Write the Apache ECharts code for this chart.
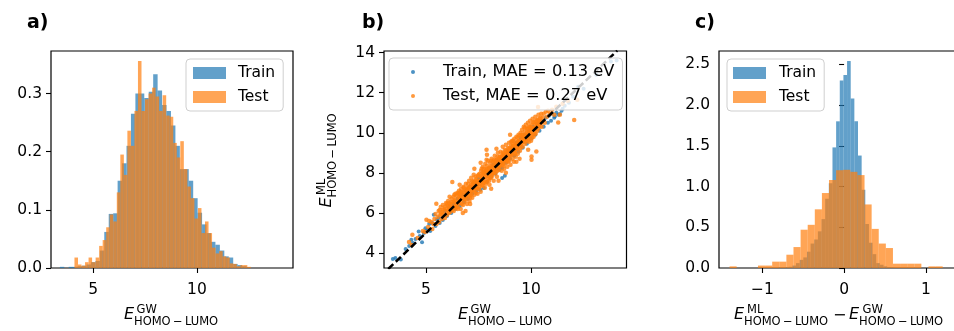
<!DOCTYPE html>
<html><head><meta charset="utf-8">
<script src="https://cdn.jsdelivr.net/npm/echarts@6/dist/echarts.min.js"></script>
<style>html,body{margin:0;padding:0;background:#fff}#c{width:954px;height:331px}</style>
</head><body><div id="c"></div>
<script>
// ---------- Panel a: histogram of E_GW (density) ----------
const aTrainStart = 3.395, aTrainWidth = 0.2142;
const aTrainHeights = [0.002,0,0.002,0.002,0.003,0.004,0.006,0.01,0.012,0.03,
  0.062,0.093,0.094,0.15,0.18,0.21,0.265,0.3,0.3,0.292,
  0.303,0.333,0.305,0.28,0.27,0.245,0.21,0.17,0.17,0.15,
  0.12,0.095,0.075,0.06,0.045,0.04,0.03,0.02,0.018,0.007,
  0.005,0.003,0.001,0];
const aTestStart = 4.10, aTestWidth = 0.17;
const aTestHeights = [0.018,0.006,0.004,0.010,0.018,0.010,0.018,0.038,0.048,0.07,
  0.092,0.08,0.13,0.195,0.16,0.236,0.21,0.27,0.356,0.27,
  0.29,0.30,0.31,0.295,0.27,0.297,0.262,0.26,0.215,0.19,
  0.218,0.17,0.14,0.12,0.085,0.103,0.06,0.08,0.06,0.035,
  0.025,0.029,0.02,0.018,0.008,0.007,0.003,0.005,0.005,0.002];

// ---------- Panel c: histogram of errors (density) ----------
const cTrainStart = -0.811, cTrainWidth = 0.0446;
const cTrainHeights = [0.005,0.005,0.01,0.015,0.03,0.06,0.10,0.13,0.2,0.30,
  0.35,0.45,0.6,0.85,1.04,1.48,1.80,2.30,2.37,2.54,
  2.08,1.80,1.38,0.96,0.54,0.31,0.17,0.06,0.04,0.02,0.01,0.005];
const cTestStart = -1.401, cTestWidth = 0.0869;
const cTestHeights = [0.02,0,0,0,0.03,0.03,0.078,0.078,0.163,0.257,
  0.47,0.53,0.72,0.92,1.08,1.2,1.205,1.18,1.14,0.78,
  0.48,0.30,0.245,0.053,0.053,0.053,0.053,0,0.02,0.02];

// ---------- Panel b: parity scatter ----------
const trainPoints = [[3.42,3.7],[3.54,3.75],[3.8,3.68],[4.03,4.2],[4.2,4.35],[4.3,4.66],[4.38,4.5],[4.5,4.7],[4.65,5.07],[4.7,4.85],
  [4.81,4.53],[4.9,5.0],[4.97,5.24],[5.05,5.15],[5.15,5.45],[5.2,5.1],[5.3,5.5],[5.37,5.91],[5.45,5.35],[5.52,5.66],[5.6,5.75],[5.65,5.5],
  [5.8,5.65],[5.9,6.1],[6.0,5.85],[6.1,6.3],[6.2,6.0],[6.3,6.45],[6.4,6.2],[6.5,6.7],[6.6,6.35],[6.7,6.9],[6.8,6.55],[6.9,7.1],
  [7.0,6.7],[7.1,7.3],[7.2,6.95],[7.3,7.5],[7.4,7.1],[7.5,7.7],[7.59,7.15],[7.75,7.24],[7.8,8.0],[7.9,7.55],[8.0,8.2],[8.1,7.8],
  [8.2,8.4],[8.3,7.95],[8.4,8.6],[8.5,8.15],[8.62,7.74],[8.62,8.24],[8.7,8.9],[8.75,7.85],[8.8,8.5],[8.9,9.1],[9.0,8.7],[9.1,9.3],
  [9.2,8.85],[9.3,9.5],[9.4,9.05],[9.5,9.75],[9.6,9.25],[9.7,9.9],[9.8,9.45],[9.9,10.1],[10.0,9.7],[10.1,10.3],[10.2,9.9],[10.3,10.45],
  [10.4,10.1],[10.5,10.6],[10.6,10.3],[10.7,10.75],[10.8,10.5],[10.85,10.85],[10.95,10.6],[11.0,10.95],[11.1,10.75],[11.13,10.81],
  [11.2,11.0],[11.3,10.9],[11.37,10.94],[11.45,11.1],[11.5,11.2],[11.6,11.35],[11.68,11.67],[11.8,11.5],[12.0,11.8],[12.24,12.3],
  [12.5,12.2],[13.1,12.9],[13.8,13.55],[14.07,13.6]];
const testPoints = [[4.19,4.55],[4.35,4.91],[4.32,4.4],[4.6,4.75],[4.85,5.1],[5.02,5.66],[5.1,5.3],[5.25,5.55],[5.3,5.2],[5.4,5.7],
  [5.45,5.95],[5.5,5.45],[4.95,5.05],[5.15,5.6],[5.35,5.45],
  [5.49,6.46],[5.55,5.8],[5.6,6.1],[5.62,5.55],[5.68,5.9],[5.7,6.3],[5.75,5.7],[5.78,6.05],[5.8,6.4],[5.85,5.95],[5.88,6.2],[5.9,5.75],
  [5.95,6.5],[5.98,6.1],[6.0,5.9],[6.02,6.35],[6.05,6.6],[6.08,6.0],[6.1,6.25],[6.12,6.8],[6.15,6.05],[6.18,6.45],[6.2,6.2],[6.22,6.7],
  [6.25,7.54],[6.27,6.3],[6.3,6.55],[6.32,6.1],[6.35,6.9],[6.38,6.4],[6.4,6.65],[6.42,6.25],[6.45,6.85],[6.48,6.5],[6.5,7.0],
  [6.52,6.3],[6.55,6.75],[6.57,7.1],[6.6,6.5],[6.62,6.9],[6.65,6.2],[6.67,7.2],[6.7,6.65],[6.72,7.0],[6.75,6.0],[6.76,6.4],[6.78,7.3],
  [6.8,6.85],[6.82,6.55],[6.85,7.15],[6.87,6.7],[6.9,7.45],[6.92,6.95],[6.95,6.45],[6.97,7.25],[7.0,6.8],[7.02,7.05],[7.05,7.6],[7.07,6.6],
  [7.1,7.3],[7.12,6.95],[7.15,7.75],[7.17,7.1],[7.2,6.75],[7.22,7.45],[7.25,7.2],[7.27,7.9],[7.3,6.9],[7.32,7.55],[7.35,7.3],[7.37,7.0],
  [7.4,7.7],[7.42,7.4],[7.45,6.95],[7.47,7.85],[7.5,7.5],[6.88,6.1],[7.3,8.2],[7.1,6.45],[6.6,7.4],
  [7.52,7.2],[7.55,7.95],[7.57,7.6],[7.6,7.05],[7.62,8.1],[7.65,7.75],[7.67,7.35],[7.7,8.3],[7.72,7.9],[7.75,7.5],[7.77,8.05],[7.8,7.25],
  [7.82,8.45],[7.85,7.8],[7.87,8.2],[7.9,7.55],[7.92,8.0],[7.95,8.6],[7.97,7.7],[8.0,8.25],[8.02,7.4],[8.03,7.9],[8.05,8.5],[8.07,8.05],
  [8.1,7.75],[8.12,8.7],[8.15,8.3],[8.17,7.95],[8.2,8.55],[8.22,7.6],[8.25,8.15],[8.27,8.85],[8.3,8.4],[8.32,8.0],[8.35,8.65],[8.37,7.8],
  [8.4,8.3],[8.42,9.0],[8.45,8.5],[8.47,8.15],[8.5,8.8],[7.6,8.5],[8.1,7.2],[8.35,9.2],[8.45,7.6],[7.9,8.9],[7.88,9.15],[7.88,8.65],
  [8.52,8.3],[8.55,9.05],[8.57,8.6],[8.6,8.1],[8.62,8.85],[8.65,9.3],[8.67,8.45],[8.7,8.95],[8.72,8.2],[8.75,9.15],[8.77,8.7],[8.8,9.4],
  [8.82,8.5],[8.85,9.0],[8.87,8.3],[8.9,9.25],[8.92,8.8],[8.95,9.5],[8.97,8.6],[9.0,9.1],[9.02,8.4],[9.05,9.35],[9.07,8.9],[9.1,9.6],
  [9.12,8.7],[9.14,9.43],[9.15,9.15],[9.18,8.55],[9.2,9.7],[9.22,9.0],[9.25,9.35],[9.27,8.8],[9.3,9.8],[9.32,9.2],[9.35,9.55],[9.37,8.95],
  [9.4,9.9],[9.42,9.3],[9.45,9.6],[9.47,9.1],[9.5,10.0],[8.8,8.0],[9.3,8.55],[9.0,9.9],[9.45,8.7],
  [9.52,9.4],[9.55,9.75],[9.57,10.15],[9.6,9.3],[9.62,9.9],[9.65,10.3],[9.67,9.55],[9.7,10.05],[9.72,9.45],[9.75,10.4],[9.77,9.8],[9.8,10.2],
  [9.82,9.6],[9.85,10.5],[9.86,9.15],[9.88,9.95],[9.9,10.3],[9.92,9.75],[9.95,10.6],[9.97,10.1],[10.0,9.6],[10.02,10.4],[10.05,9.9],[10.07,10.7],
  [10.1,10.23],[10.12,9.8],[10.15,10.55],[10.17,10.1],[10.2,10.8],[10.22,9.95],[10.25,9.07],[10.27,10.45],[10.3,10.65],[10.32,10.2],[10.35,10.9],
  [10.38,10.4],[10.4,10.7],[10.45,10.55],[10.48,10.95],[10.5,10.3],[10.02,8.65],[10.02,8.82],
  [10.55,10.75],[10.6,10.95],[10.65,10.5],[10.7,11.05],[10.75,10.8],[10.8,11.1],[10.9,10.95],[11.0,11.15],[11.1,10.9],[11.29,10.51],
  [11.37,10.9],[12.05,10.64],[10.33,11.28],[11.2,11.3],[11.5,11.45],[11.75,11.6],[12.2,11.65],
  [6.05,6.15],[6.15,6.35],[6.25,6.15],[6.35,6.6],[6.45,6.35],[6.55,6.55],[6.65,6.8],[6.7,6.45],[6.8,7.05],[6.85,6.8],[6.95,7.0],[7.0,7.2],
  [7.05,6.85],[7.15,7.4],[7.2,7.1],[7.3,7.25],[7.35,7.55],[7.4,7.25],[7.45,7.6],[7.55,7.45],[7.6,7.8],[7.7,7.65],[7.75,7.95],[7.8,7.6],
  [7.85,8.1],[7.95,7.85],[8.0,8.05],[8.05,7.75],[8.1,8.35],[8.15,8.1],[8.25,8.45],[8.3,8.2],[8.35,8.45],[8.4,8.1],[8.45,8.7],[8.55,8.5],
  [8.6,8.75],[8.7,8.6],[8.75,8.9],[8.8,8.7],[8.9,9.0],[8.95,8.75],[9.0,9.25],[9.05,9.0],[9.15,9.35],[9.2,9.1],[9.25,9.5],[9.35,9.4],
  [9.4,9.6],[9.45,9.35],[9.55,9.6],[9.6,9.8],[9.7,9.7],[9.75,9.9],[9.85,9.85],[9.9,10.05],[10.0,10.0],[10.05,10.2],[10.15,10.2],[10.2,10.4],
  [10.3,10.35],[10.4,10.5],[6.6,6.7],[6.9,6.9],[7.25,7.35],[7.65,7.55],[8.2,8.25],[8.5,8.55],[8.85,8.85],[9.1,9.2],[9.5,9.45],[9.8,10.0],
  [7.4,7.45],[7.9,8.15],[8.25,8.0],[8.65,8.4],[9.3,9.15],
  [6.1,6.5],[6.2,6.55],[6.3,6.8],[6.4,6.95],[6.5,6.2],[6.55,6.95],[6.65,7.05],[6.75,6.75],[6.8,7.25],[6.9,6.65],[7.0,7.45],[7.05,7.25],
  [7.1,6.75],[7.15,6.9],[7.25,7.6],[7.3,7.1],[7.35,7.8],[7.45,7.2],[7.5,7.9],[7.55,7.3],[7.6,7.6],[7.65,8.2],[7.7,7.4],[7.75,8.2],
  [7.8,7.8],[7.85,7.45],[7.9,8.35],[7.95,8.05],[8.0,7.6],[8.05,8.25],[8.1,8.6],[8.15,7.85],[8.2,8.0],[8.25,8.65],[8.3,8.6],[8.35,8.2],
  [8.4,8.8],[8.45,8.3],[8.5,8.35],[8.55,8.8],[8.6,8.5],[8.65,9.0],[8.7,8.35],[8.75,8.65],[8.8,9.1],[8.85,8.6],[8.9,8.55],[8.95,9.2],
  [9.0,8.9],[9.05,9.55],[9.1,8.9],[9.15,9.6],[9.2,9.35],[9.25,8.95],[9.3,9.4],[9.35,9.75],[9.4,9.4],[9.45,9.85],[9.5,9.25],[9.55,9.9],
  [9.6,9.55],[9.65,9.7],[9.7,10.25],[9.75,9.65],[9.8,9.75],[9.85,10.2],[9.9,9.55],[9.95,10.3],[10.0,10.25],[10.05,9.75],[10.1,10.5],[10.15,9.95],
  [10.2,10.25],[10.25,10.6],[10.3,10.1],[10.35,10.6],[10.4,10.3],[10.45,10.75],[10.5,10.5],[6.0,6.45],[5.9,6.3],[5.8,6.15],[5.7,5.95],[5.65,6.15],
  [6.35,6.3],[6.6,6.95],[6.95,7.1],[7.2,7.55],[7.7,8.0],[8.1,8.0],[8.55,8.65],[8.95,9.05],[9.25,9.2],[9.6,9.65],[9.95,9.95]];
const diagLine = [[3.2,3.2],[14.1,14.1]];

// tick values
const aXTicks = [5,10], aYTicks = [0,0.1,0.2,0.3];
const bXTicks = [5,10], bYTicks = [4,6,8,10,12,14];
const cXTicks = [-1,0,1], cYTicks = [0,0.5,1.0,1.5,2.0,2.5];

const trainLabel = 'Train', testLabel = 'Test';
const trainMAE = 'Train, MAE = 0.13 eV', testMAE = 'Test, MAE = 0.27 eV';

// ---------- build ----------
function bins(start, width, heights){
  return heights.map((h,i)=>[start+i*width, start+(i+1)*width, h]);
}
function histRender(params, api){
  const a = api.coord([api.value(0), api.value(2)]);
  const b = api.coord([api.value(1), 0]);
  return {type:'rect', shape:{x:a[0], y:a[1], width:b[0]-a[0], height:b[1]-a[1]}, style:{fill:api.visual('color')}};
}
const FONT = 'DejaVu Sans';
const FS = 15.5;
function axis(grid, min, max, ticks, fmt, isX){
  return {type:'value', gridIndex:grid, min:min, max:max,
    axisLine:{show:false},
    axisTick:{show:true, length:5, customValues:ticks, lineStyle:{color:'#000', width:1.1}},
    axisLabel:{customValues:ticks, formatter:fmt, color:'#000', fontSize:FS, fontFamily:FONT, margin:isX?14:9},
    splitLine:{show:false}};
}
const f1 = v => Number(v).toFixed(1);
const fi = v => (v<0?'\u2212':'') + Math.abs(Math.round(v));

const BLUE = 'rgba(31,119,180,0.7)', ORANGE = 'rgba(255,127,14,0.7)';
const gridCommon = {show:true, borderColor:'#000', borderWidth:1.2, backgroundColor:'transparent', containLabel:false, outerBoundsMode:'none'};

function legendBox(names, left, top, pad, textPad, iw, ih, icon, fs){
  return {data:names, orient:'vertical', left:left, top:top, padding:pad, itemWidth:iw, itemHeight:ih, itemGap:8,
    icon:icon, selectedMode:false, backgroundColor:'rgba(255,255,255,0.8)', borderColor:'#cfcfcf', borderWidth:1, borderRadius:4,
    textStyle:{fontSize:fs, fontFamily:FONT, color:'#000', lineHeight:16, padding:[0,0,0,textPad]}};
}

const F_E = 'italic 16px "DejaVu Sans"', F_S = '11.5px "DejaVu Sans"', F_M = '16px "DejaVu Sans"';
const SUB = 'HOMO\u2009\u2212\u2009LUMO';
function mathLabel(x, y, rot, parts){
  return {type:'group', x:x, y:y, rotation:rot, silent:true,
    children: parts.map(p=>({type:'text', x:p[1], y:p[2], style:{text:p[0], font:p[3], fill:'#000', verticalAlign:'middle', align:'left'}}))};
}
const lblGW = [['E',0,0,F_E],['GW',12.5,-4.5,F_S],[SUB,10,7,F_S]];
const lblML = [['E',0,0,F_E],['ML',12.5,-4.5,F_S],[SUB,10,7,F_S]];
const lblDiff = [['E',0,0,F_E],['ML',13,-4.5,F_S],[SUB,10,7,F_S],['\u2212',99,0.5,F_M],['E',115,0,F_E],['GW',128.5,-4.5,F_S],[SUB,125,7,F_S]];
function panelTag(t, x){ return {type:'text', x:x, y:23, style:{text:t, font:'bold 19px "DejaVu Sans"', fill:'#000', verticalAlign:'middle'}}; }

const option = {
  animation:false,
  backgroundColor:'#fff',
  grid:[
    Object.assign({left:51, top:51, width:242, height:217}, gridCommon),
    Object.assign({left:384, top:51, width:242.5, height:217}, gridCommon),
    Object.assign({left:719, top:51, width:242, height:217}, gridCommon)
  ],
  xAxis:[
    axis(0, 2.97, 14.63, aXTicks, fi, true),
    axis(1, 3.0, 14.54, bXTicks, fi, true),
    axis(2, -1.53, 1.43, cXTicks, fi, true)
  ],
  yAxis:[
    axis(0, 0, 0.373, aYTicks, f1, false),
    axis(1, 3.25, 14.08, bYTicks, fi, false),
    axis(2, 0, 2.663, cYTicks, f1, false)
  ],
  legend:[
    legendBox([trainLabel, testLabel], 186, 59, [6,8,6,7], 7, 33, 12, 'rect', FS),
    legendBox([trainMAE, testMAE], 389, 58, [6,8,6,22], 23, 4, 4, 'circle', 16.3),
    legendBox([trainLabel, testLabel], 727, 59, [6,8,6,6], 8, 33, 12, 'rect', FS)
  ],
  series:[
    {type:'custom', name:trainLabel, xAxisIndex:0, yAxisIndex:0, renderItem:histRender, itemStyle:{color:BLUE}, data:bins(aTrainStart,aTrainWidth,aTrainHeights), silent:true},
    {type:'custom', name:testLabel, xAxisIndex:0, yAxisIndex:0, renderItem:histRender, itemStyle:{color:ORANGE}, data:bins(aTestStart,aTestWidth,aTestHeights), silent:true},
    {type:'scatter', name:trainMAE, xAxisIndex:1, yAxisIndex:1, symbol:'circle', symbolSize:4, itemStyle:{color:'#1f77b4'}, data:trainPoints, silent:true},
    {type:'scatter', name:testMAE, xAxisIndex:1, yAxisIndex:1, symbol:'circle', symbolSize:4.5, itemStyle:{color:'#ff7f0e'}, data:testPoints, silent:true},
    {type:'line', xAxisIndex:1, yAxisIndex:1, data:diagLine, symbol:'none', lineStyle:{color:'#000', width:2.5, type:[7,3.5]}, silent:true},
    {type:'custom', name:trainLabel, xAxisIndex:2, yAxisIndex:2, renderItem:histRender, itemStyle:{color:BLUE}, data:bins(cTrainStart,cTrainWidth,cTrainHeights), silent:true},
    {type:'custom', name:testLabel, xAxisIndex:2, yAxisIndex:2, renderItem:histRender, itemStyle:{color:ORANGE}, data:bins(cTestStart,cTestWidth,cTestHeights), silent:true}
  ],
  graphic:[
    panelTag('a)', 27), panelTag('b)', 362), panelTag('c)', 695),
    mathLabel(124, 315, 0, lblGW),
    mathLabel(458, 315, 0, lblGW),
    mathLabel(734, 315, 0, lblDiff),
    mathLabel(326.5, 207.5, Math.PI/2, lblML)
  ]
};
const chart = echarts.init(document.getElementById('c'), null, {renderer:'canvas', width:954, height:331});
chart.setOption(option);
</script></body></html>
